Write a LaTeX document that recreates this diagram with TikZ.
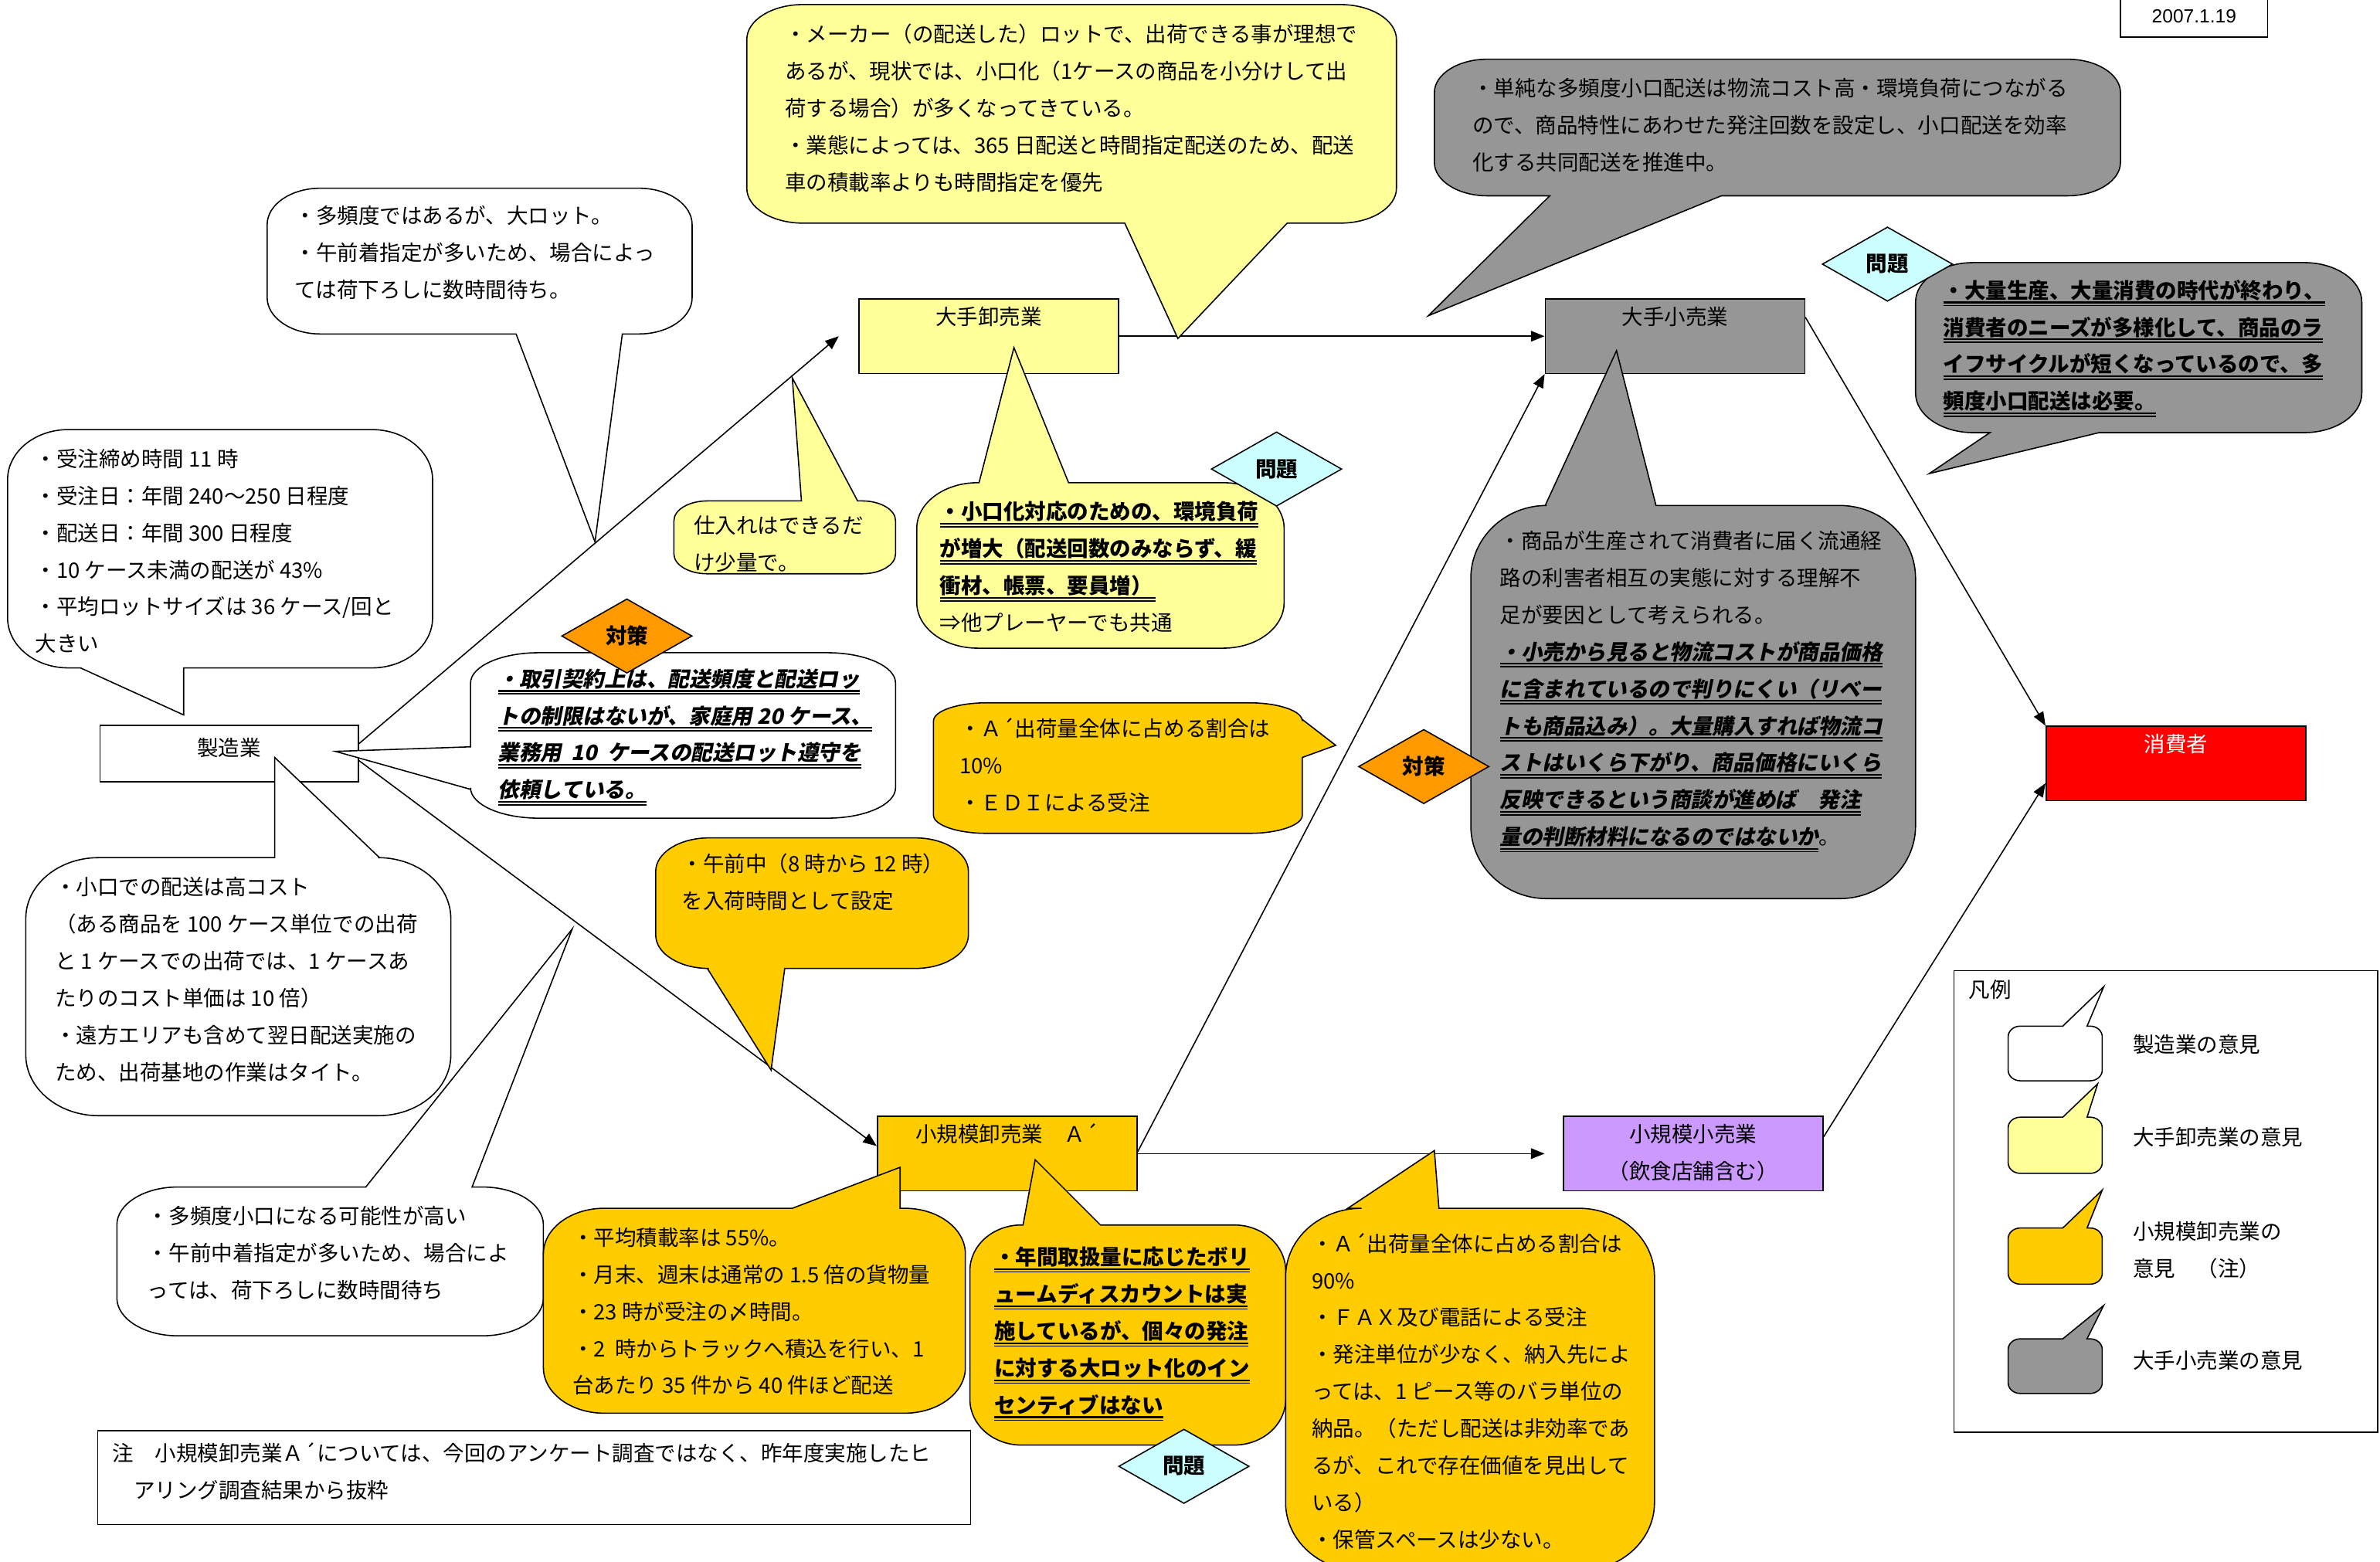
\documentclass[tikz,border=0pt]{standalone}
\usepackage{fontspec}
\setmainfont{Noto Sans CJK JP}
\newfontfamily\bifont{Noto Sans CJK JP}[FakeSlant=0.2]
\newfontfamily\datefont{Liberation Sans}
\usetikzlibrary{arrows.meta,shapes.geometric}
\definecolor{lyel}{HTML}{FFFF99}
\definecolor{oran}{HTML}{FFCC00}
\definecolor{gry}{HTML}{969696}
\definecolor{cyn}{HTML}{CCFFFF}
\definecolor{dor}{HTML}{FF9900}
\definecolor{purp}{HTML}{CC99FF}
\newcommand\UL[1]{\leavevmode\vtop{\hbox{#1}\kern0.6pt\hrule height 1.2pt\kern1pt\hrule height 0.7pt}}
\newcommand\BIf{\bifont\bfseries}
\newcommand\setR[2]{\def\bRX{#1}\def\bRY{#2}}
% rounded callout, tail on bottom edge
\newcommand\bubB[8]{\path[#1] ({#2},{#3+\bRY}) .. controls ({#2},{#3+.448*\bRY}) and ({#2+.448*\bRX},{#3}) .. ({#2+\bRX},{#3})
 -- ({#4-\bRX},{#3}) .. controls ({#4-.448*\bRX},{#3}) and ({#4},{#3+.448*\bRY}) .. ({#4},{#3+\bRY})
 -- ({#4},{#5-\bRY}) .. controls ({#4},{#5-.448*\bRY}) and ({#4-.448*\bRX},{#5}) .. ({#4-\bRX},{#5})
 -- ({#7},{#5}) -- (#8) -- ({#6},{#5})
 -- ({#2+\bRX},{#5}) .. controls ({#2+.448*\bRX},{#5}) and ({#2},{#5-.448*\bRY}) .. ({#2},{#5-\bRY}) -- cycle;}
% tail on top edge
\newcommand\bubT[8]{\path[#1] ({#2},{#3+\bRY}) .. controls ({#2},{#3+.448*\bRY}) and ({#2+.448*\bRX},{#3}) .. ({#2+\bRX},{#3})
 -- ({#6},{#3}) -- (#8) -- ({#7},{#3})
 -- ({#4-\bRX},{#3}) .. controls ({#4-.448*\bRX},{#3}) and ({#4},{#3+.448*\bRY}) .. ({#4},{#3+\bRY})
 -- ({#4},{#5-\bRY}) .. controls ({#4},{#5-.448*\bRY}) and ({#4-.448*\bRX},{#5}) .. ({#4-\bRX},{#5})
 -- ({#2+\bRX},{#5}) .. controls ({#2+.448*\bRX},{#5}) and ({#2},{#5-.448*\bRY}) .. ({#2},{#5-\bRY}) -- cycle;}
% tail on left edge (#6 upper y, #7 lower y)
\newcommand\bubL[8]{\path[#1] ({#2},{#3+\bRY}) .. controls ({#2},{#3+.448*\bRY}) and ({#2+.448*\bRX},{#3}) .. ({#2+\bRX},{#3})
 -- ({#4-\bRX},{#3}) .. controls ({#4-.448*\bRX},{#3}) and ({#4},{#3+.448*\bRY}) .. ({#4},{#3+\bRY})
 -- ({#4},{#5-\bRY}) .. controls ({#4},{#5-.448*\bRY}) and ({#4-.448*\bRX},{#5}) .. ({#4-\bRX},{#5})
 -- ({#2+\bRX},{#5}) .. controls ({#2+.448*\bRX},{#5}) and ({#2},{#5-.448*\bRY}) .. ({#2},{#5-\bRY})
 -- ({#2},{#7}) -- (#8) -- ({#2},{#6}) -- cycle;}
% tail on right edge (#6 upper y, #7 lower y)
\newcommand\bubR[8]{\path[#1] ({#2},{#3+\bRY}) .. controls ({#2},{#3+.448*\bRY}) and ({#2+.448*\bRX},{#3}) .. ({#2+\bRX},{#3})
 -- ({#4-\bRX},{#3}) .. controls ({#4-.448*\bRX},{#3}) and ({#4},{#3+.448*\bRY}) .. ({#4},{#3+\bRY})
 -- ({#4},{#6}) -- (#8) -- ({#4},{#7})
 -- ({#4},{#5-\bRY}) .. controls ({#4},{#5-.448*\bRY}) and ({#4-.448*\bRX},{#5}) .. ({#4-\bRX},{#5})
 -- ({#2+\bRX},{#5}) .. controls ({#2+.448*\bRX},{#5}) and ({#2},{#5-.448*\bRY}) .. ({#2},{#5-\bRY}) -- cycle;}
\begin{document}
\begin{tikzpicture}[x=1pt,y=-1pt,
 box/.style={draw, line width=0.8pt, inner sep=0pt, align=center, minimum width=171pt, minimum height=49pt, font=\fontsize{14}{24.4}\selectfont},
 arr/.style={line width=0.8pt, -{Triangle[length=9pt,width=7pt]}},
 bubW/.style={draw, line width=0.8pt, fill=white},
 bubY/.style={draw, line width=0.8pt, fill=lyel},
 bubO/.style={draw, line width=0.8pt, fill=oran},
 bubG/.style={draw, line width=0.8pt, fill=gry},
 txt/.style={anchor=north west, yshift=11.8pt, inner sep=0pt, align=left, font=\fontsize{14}{24.4}\selectfont},
 dia/.style={diamond, draw, line width=0.8pt, inner sep=0pt, minimum width=86pt, minimum height=49pt, font=\bfseries\fontsize{14}{16}\selectfont},
 plain/.style={draw, line width=0.8pt, inner sep=0pt, fill=white}]
\useasboundingbox (0,0) rectangle (1568,1029);
\fill[white] (0,0) rectangle (1568,1029);

% date
\node[plain, minimum width=97pt, minimum height=28pt, font=\datefont\fontsize{12.5}{14}\selectfont] (date) at (1445.5,10.5) {2007.1.19};

% main boxes
\node[box, minimum width=170pt, minimum height=37pt, text depth=9pt, fill=white] (seizo) at (151,496.5) {製造業};
\node[box, fill=lyel] (oroshi) at (651.5,221.5) {\strut 大手卸売業\\\strut};
\node[box, fill=gry] (kouri) at (1103.5,221.5) {\strut 大手小売業\\\strut};
\node[box, fill=red, text=white] (consumer) at (1433.5,503) {\strut 消費者\\\strut};
\node[box, fill=oran] (smallor) at (663.5,760) {\strut 小規模卸売業　Ａ´\\\strut};
\node[box, fill=purp] (smallkouri) at (1115.5,760) {\strut 小規模小売業\\（飲食店舗含む）\strut};

% connectors
\draw[arr] ([yshift=6.5pt]seizo.east) -- ([xshift=-13pt]oroshi.west);
\draw[arr] ([yshift=-4.5pt]seizo.east) -- ([yshift=5pt]smallor.west);
\draw[arr] (oroshi.east) -- (kouri.west);
\draw[arr] (smallor.east) -- ([xshift=-12pt]smallkouri.west);
\draw[arr] ([yshift=1pt]smallor.east) -- (kouri.south west);
\draw[arr] ([yshift=12.5pt]kouri.east) -- (consumer.north west);
\draw[arr] ([yshift=11pt]smallkouri.east) -- ([yshift=-13pt]consumer.west);

% callouts
\setR{37}{23}\bubB{bubY}{492}{3}{920}{147}{741}{848}{776,223}
\setR{35}{22}\bubB{bubG}{945}{39}{1397}{129}{1021}{1134}{941,208}
\setR{38}{26}\bubB{bubG}{1262}{173}{1556}{285}{1311}{1383}{1271,312}
\setR{35}{24}\bubB{bubW}{176}{124}{456}{220}{340}{410}{392,357}
\setR{40}{33}\bubB{bubW}{5}{283}{285}{440}{53}{121}{121,471}
\setR{22}{13}\bubT{bubY}{444}{330}{590}{378}{528}{565}{522,249}
\setR{40}{30}\bubT{bubY}{604}{318}{846}{427}{645}{704}{668,229}
\setR{45}{20}\bubL{bubW}{310}{430}{590}{539}{492}{520}{221,495}
\setR{48}{40}\bubT{bubW}{17}{565}{297}{735}{181}{250}{181,499}
\setR{40}{25}\bubT{bubW}{77}{782}{358}{880}{241}{311}{377,612}
\setR{35}{22}\bubB{bubO}{432}{552}{638}{638}{466}{517}{508,705}
\setR{35}{12}\bubR{bubO}{615}{463}{858}{549}{474}{499}{880,491}
\setR{50}{48}\bubT{bubG}{969}{333}{1262}{592}{1018}{1091}{1065,231}
\setR{40}{30}\bubT{bubO}{358}{796}{636}{931}{522}{593}{593,769}
\setR{34}{30}\bubT{bubO}{639}{807}{847}{952}{674}{725}{682,764}
\setR{50}{45}\bubT{bubO}{847}{796}{1090}{1035}{888}{948}{945,758}

% callout texts
\node[txt] (ta) at (517,22.5) {\strut ・メーカー（の配送した）ロットで、出荷できる事が理想で\\あるが、現状では、小口化（1ケースの商品を小分けして出\\荷する場合）が多くなってきている。\\・業態によっては、365 日配送と時間指定配送のため、配送\\車の積載率よりも時間指定を優先};
\node[txt] (tb) at (970,58) {\strut ・単純な多頻度小口配送は物流コスト高・環境負荷につながる\\ので、商品特性にあわせた発注回数を設定し、小口配送を効率\\化する共同配送を推進中。};
\node[txt] (td) at (1280,191) {\strut\UL{\bfseries ・大量生産、大量消費の時代が終わり、}\\\UL{\bfseries 消費者のニーズが多様化して、商品のラ}\\\UL{\bfseries イフサイクルが短くなっているので、多}\\\UL{\bfseries 頻度小口配送は必要。}};
\node[txt] (te) at (194,142) {\strut ・多頻度ではあるが、大ロット。\\・午前着指定が多いため、場合によっ\\ては荷下ろしに数時間待ち。};
\node[txt] (tf) at (23,302) {\strut ・受注締め時間 11 時\\・受注日：年間 240～250 日程度\\・配送日：年間 300 日程度\\・10 ケース未満の配送が 43\%\\・平均ロットサイズは 36 ケース/回と\\大きい};
\node[txt] (tg) at (457,346) {\strut 仕入れはできるだ\\け少量で。};
\node[txt] (th) at (619,337) {\strut\UL{\bfseries ・小口化対応のための、環境負荷}\\\UL{\bfseries が増大（配送回数のみならず、緩}\\\UL{\bfseries 衝材、帳票、要員増）\,}\\⇒他プレーヤーでも共通};
\node[txt] (tj) at (328,447) {\strut\UL{\BIf ・取引契約上は、配送頻度と配送ロッ}\\\UL{\BIf トの制限はないが、家庭用 20 ケース、}\\\UL{\BIf 業務用 \ 10 \ ケースの配送ロット遵守を}\\\UL{\BIf 依頼している。}};
\node[txt] (tk) at (36,584) {\strut ・小口での配送は高コスト\\（ある商品を 100 ケース単位での出荷\\と 1 ケースでの出荷では、1 ケースあ\\たりのコスト単価は 10 倍）\\・遠方エリアも含めて翌日配送実施の\\ため、出荷基地の作業はタイト。};
\node[txt] (tl) at (97,801) {\strut ・多頻度小口になる可能性が高い\\・午前中着指定が多いため、場合によ\\っては、荷下ろしに数時間待ち};
\node[txt] (tm) at (449,569) {\strut ・午前中（8 時から 12 時）\\を入荷時間として設定};
\node[txt] (tn) at (632,480) {\strut ・Ａ´出荷量全体に占める割合は\\10\%\\・ＥＤＩによる受注};
\node[txt] (tp) at (988,356) {\strut ・商品が生産されて消費者に届く流通経\\路の利害者相互の実態に対する理解不\\足が要因として考えられる。\\\UL{\BIf ・小売から見ると物流コストが商品価格}\\\UL{\BIf に含まれているので判りにくい（リベー}\\\UL{\BIf トも商品込み）。大量購入すれば物流コ}\\\UL{\BIf ストはいくら下がり、商品価格にいくら}\\\UL{\BIf 反映できるという商談が進めば　発注}\\\UL{\BIf 量の判断材料になるのではないか}。};
\node[txt] (tq) at (377,815) {\strut ・平均積載率は 55\%。\\・月末、週末は通常の 1.5 倍の貨物量\\・23 時が受注の〆時間。\\・2 \ 時からトラックへ積込を行い、1\\台あたり 35 件から 40 件ほど配送};
\node[txt] (tr) at (655,828) {\strut\UL{\bfseries ・年間取扱量に応じたボリ}\\\UL{\bfseries ュームディスカウントは実}\\\UL{\bfseries 施しているが、個々の発注}\\\UL{\bfseries に対する大ロット化のイン}\\\UL{\bfseries センティブはない}};
\node[txt] (ts) at (864,819) {\strut ・Ａ´出荷量全体に占める割合は\\90\%\\・ＦＡＸ及び電話による受注\\・発注単位が少なく、納入先によ\\っては、1 ピース等のバラ単位の\\納品。（ただし配送は非効率であ\\るが、これで存在価値を見出して\\いる）\\・保管スペースは少ない。};

% note
\node[plain, anchor=north west, minimum width=575pt, minimum height=62pt] (notebox) at (64,942) {};
\node[txt] (tnote) at (74,957) {\strut 注　小規模卸売業Ａ´については、今回のアンケート調査ではなく、昨年度実施したヒ\\　アリング調査結果から抜粋};

% legend
\node[plain, anchor=north west, minimum width=279pt, minimum height=304pt] (legend) at (1287,639) {};
\node[txt] (tleg) at (1297,652) {\strut 凡例};
\setR{8}{7}
\bubT{bubW}{1323}{676}{1385}{712}{1359}{1375}{1386,650}
\bubT{bubY}{1323}{736}{1385}{773}{1359}{1375}{1382,714}
\bubT{bubO}{1323}{809}{1385}{846}{1359}{1375}{1385,784}
\bubT{bubG}{1323}{882}{1385}{918}{1359}{1375}{1386,860}
\node[txt] (tl1) at (1405,688) {\strut 製造業の意見};
\node[txt] (tl2) at (1405,749) {\strut 大手卸売業の意見};
\node[txt] (tl3) at (1405,811) {\strut 小規模卸売業の\\意見　（注）};
\node[txt] (tl4) at (1405,896) {\strut 大手小売業の意見};

% diamonds
\node[dia, fill=cyn] (mondaiA) at (1243.5,174) {問題};
\node[dia, fill=cyn] (mondaiB) at (841,309) {問題};
\node[dia, fill=dor] (taisakuA) at (413,419) {対策};
\node[dia, fill=dor] (taisakuB) at (938,505) {対策};
\node[dia, fill=cyn] (mondaiC) at (780,966) {問題};
\end{tikzpicture}
\end{document}
